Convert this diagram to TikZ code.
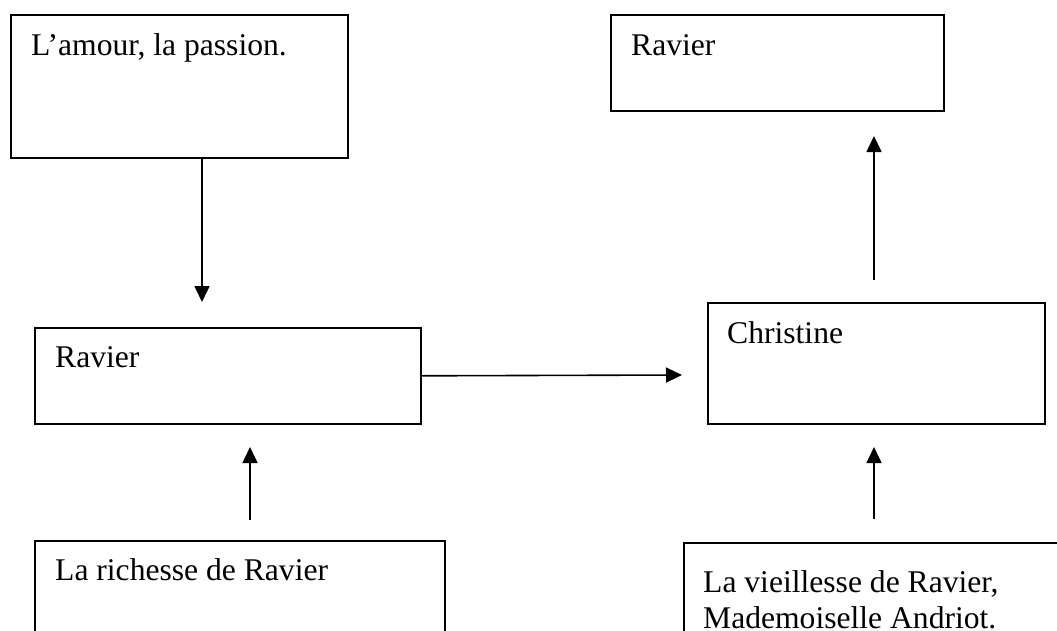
\documentclass[tikz,border=0pt]{standalone}
\usepackage{fontspec}
\setmainfont{Liberation Serif}
\usetikzlibrary{arrows.meta}
\begin{document}
\begin{tikzpicture}[x=1pt,y=-1pt,
  box/.style={draw, line width=1.6pt, inner sep=0pt, anchor=north west, rectangle},
  txt/.style={anchor=base west, inner sep=0pt, font=\fontsize{31.6}{36}\selectfont},
  arr/.style={line width=1.6pt, -{Triangle[length=16pt,width=15pt]}}]
\useasboundingbox (0,0) rectangle (1057,630);
\clip (0,0) rectangle (1057,630);
% boxes
\node[box, minimum width=337pt, minimum height=143pt] (b1) at (10,14) {};
\node[box, minimum width=333pt, minimum height=96pt] (b2) at (610,14) {};
\node[box, minimum width=386pt, minimum height=96pt] (b3) at (34,327) {};
\node[box, minimum width=337pt, minimum height=121pt] (b4) at (707,302) {};
\node[box, minimum width=410pt, minimum height=150pt] (b5) at (34,540) {};
\node[box, minimum width=420pt, minimum height=150pt] (b6) at (683,542) {};
% texts
\node[txt] (t1) at (31,55) {L’amour, la passion.};
\node[txt] (t2) at (631,55) {Ravier};
\node[txt] (t3) at (55,367) {Ravier};
\node[txt] (t4) at (727,343) {Christine};
\node[txt] (t5) at (55,580) {La richesse de Ravier};
\node[txt] (t6a) at (703,592) {La vieillesse de Ravier,};
\node[txt] (t6b) at (703,628) {Mademoiselle Andriot.};
% connector ends
\coordinate (a1e) at (202,302);
\coordinate (a2s) at (250,520);
\coordinate (a2e) at (250,447);
\coordinate (a3e) at (682,375);
\coordinate (a4s) at (874,280);
\coordinate (a4e) at (874,136);
\coordinate (a5s) at (874,519);
\coordinate (a5e) at (874,447);
% connectors
\draw[arr] (a1e |- b1.south) -- (a1e);
\draw[arr] (a2s) -- (a2e);
\draw[arr] (b3.east) -- (a3e);
\draw[arr] (a4s) -- (a4e);
\draw[arr] (a5s) -- (a5e);
\end{tikzpicture}
\end{document}
